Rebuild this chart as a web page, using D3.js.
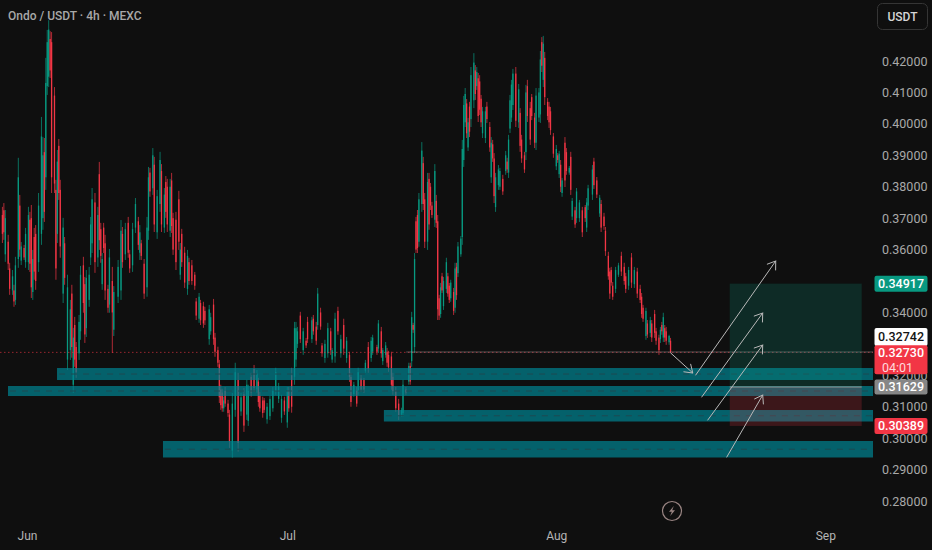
<!DOCTYPE html>
<html><head><meta charset="utf-8">
<script src="https://cdn.jsdelivr.net/npm/d3@7"></script>
<style>html,body{margin:0;padding:0;background:#0f0f0f}svg{display:block}text{font-family:Roboto,"Liberation Sans",sans-serif}</style>
</head><body><div id="c"></div>
<script>
// Candles: slot = number of 4h periods after the series start; prices in 1/10000 USDT
const seriesStart = Date.UTC(2025,4,29);
const candleSlot = [
1,2,3,5,6,8,9,10,12,13,
14,16,17,19,20,21,22,23,24,26,
28,29,30,31,32,33,34,35,37,38,
39,40,41,43,44,46,48,49,50,51,
52,54,55,57,58,59,61,62,63,65,
67,68,69,70,71,72,74,75,77,78,
81,83,84,86,88,89,91,93,95,96,
97,99,101,102,103,105,106,108,110,111,
113,114,115,117,118,119,121,123,124,125,
127,129,130,132,134,135,137,138,140,141,
144,145,147,148,150,151,152,153,154,155,
157,158,160,162,164,166,168,170,171,173,
175,177,178,179,181,182,184,186,188,190,
192,194,196,198,199,201,203,204,205,207,
209,211,212,215,216,218,219,221,222,224,
226,228,229,231,233,235,237,239,241,242,
244,246,247,249,251,252,254,256,257,260,
261,263,264,266,267,268,270,271,273,275,
277,278,280,282,283,284,285,286,287,288,
289,291,292,293,295,296,297,298,300,301,
302,303,304,305,306,308,309,310,311,313,
314,315,316,318,319,320,321,322,323,324,
325,327,328,329,330,331,332,333,335,336,
338,339,340,341,342,344,345,347,349,350,
351,352,353,354,356,358,359,360,362,363,
364,366,367,369,370,372,373,374,375,376,
378,379,380,382,384,385,386,387,388,390,
391,393,394,395,397,398,400,402,404,405,
406,409,410,412,414,415,417,418,420,421,
422,423,425,427,429,431,432,434,436,438,
440,442,443,444,446,447,449,450,452,453,
455,456,457,458,459,460,462,463];
const candleHigh = [
3736,3748,3726,3647,3558,3535,3488,3577,3892,3774,
3624,3615,3669,3736,3720,3742,3599,3669,3678,3780,
4022,3958,3955,4210,4299,4330,4295,4292,4117,3822,
3917,3952,3822,3701,3640,3520,3440,3488,3351,3386,
3306,3392,3548,3577,3513,3535,3545,3704,3796,3780,
3736,3879,3685,3589,3685,3647,3488,3602,3545,3484,
3567,3694,3672,3685,3704,3599,3685,3764,3704,3678,
3631,3570,3704,3863,3860,3923,3895,3790,3911,3872,
3796,3834,3825,3825,3844,3717,3720,3787,3621,3666,
3609,3599,3574,3567,3529,3446,3462,3440,3434,3418,
3424,3399,3443,3335,3291,3249,3170,3157,3132,3163,
3122,3090,3144,3240,3208,3144,3160,3186,3170,3208,
3233,3217,3192,3147,3132,3128,3112,3135,3163,3224,
3176,3138,3132,3163,3163,3224,3370,3370,3354,3402,
3351,3319,3386,3386,3392,3370,3478,3415,3303,3313,
3367,3351,3287,3399,3418,3329,3380,3322,3275,3208,
3179,3163,3224,3201,3192,3249,3306,3322,3329,3297,
3376,3354,3287,3306,3287,3278,3275,3208,3163,3125,
3097,3186,3163,3240,3240,3402,3367,3589,3704,3726,
3780,3942,3895,3780,3844,3844,3812,3752,3872,3774,
3710,3456,3494,3526,3513,3574,3526,3494,3504,3478,
3558,3558,3624,3643,3949,4089,4114,4079,4019,4070,
4181,4225,4187,4181,4162,4155,4092,4054,4054,4070,
4006,3958,3949,3907,3844,3869,3860,3838,3914,3892,
3965,4092,4140,4175,4181,4127,4050,3965,3911,4124,
4140,4070,4095,4035,4114,4114,4232,4276,4280,4229,
4082,4070,4054,3971,3933,3907,3914,3885,3828,3958,
3923,3866,3911,3764,3736,3796,3758,3736,3742,3764,
3806,3869,3892,3831,3774,3758,3717,3672,3593,3542,
3545,3497,3545,3558,3593,3558,3526,3545,3589,3545,
3542,3488,3462,3424,3415,3376,3386,3376,3408,3351,
3329,3354,3370,3399,3360,3354,3329,3319];
const candleLow = [
3621,3631,3561,3535,3456,3456,3418,3424,3542,3577,
3551,3567,3542,3535,3529,3446,3440,3504,3472,3529,
3615,3663,3688,3790,4092,4117,4146,3780,3780,3504,
3621,3758,3574,3430,3488,3217,3249,3256,3144,3227,
3192,3249,3313,3399,3303,3322,3418,3551,3589,3526,
3545,3599,3558,3472,3589,3440,3399,3399,3271,3325,
3430,3440,3542,3567,3574,3526,3529,3653,3599,3567,
3567,3443,3450,3631,3768,3774,3656,3634,3720,3656,
3653,3701,3656,3640,3653,3583,3535,3599,3504,3545,
3478,3456,3488,3488,3472,3376,3367,3360,3351,3360,
3297,3329,3297,3259,3227,3112,3090,3084,3084,3100,
3068,2969,2938,3068,2957,3071,3020,3058,3039,3132,
3147,3144,3100,3084,3065,3081,3046,3058,3084,3138,
3112,3049,3074,3033,3084,3081,3170,3227,3287,3303,
3265,3287,3303,3303,3329,3297,3345,3345,3259,3240,
3256,3265,3240,3240,3329,3256,3265,3240,3179,3100,
3132,3100,3138,3147,3144,3208,3208,3243,3265,3265,
3271,3256,3233,3256,3227,3211,3154,3138,3084,3058,
3068,3068,3138,3170,3170,3227,3335,3271,3589,3589,
3609,3720,3726,3605,3599,3663,3726,3701,3672,3669,
3376,3376,3383,3462,3408,3462,3450,3430,3434,3392,
3399,3440,3513,3577,3615,3863,3990,3955,3914,3958,
3990,4050,4076,4108,4006,4028,3990,3955,3939,4003,
3911,3812,3879,3748,3720,3790,3790,3774,3838,3844,
3828,3971,4006,4044,3990,3987,3911,3876,3844,3885,
4006,3933,4012,3923,3917,4006,4003,4165,4117,4060,
4012,3987,3965,3892,3853,3876,3828,3783,3768,3799,
3838,3838,3774,3694,3669,3685,3688,3640,3688,3656,
3726,3758,3793,3764,3704,3656,3663,3580,3504,3443,
3485,3440,3462,3513,3516,3488,3462,3472,3478,3478,
3446,3430,3383,3370,3313,3319,3322,3306,3319,3297,
3265,3303,3329,3306,3306,3297,3297,3271];
const candleOpen = [
3710,3725,3585,3625,3540,3470,3470,3440,3570,3740,
3565,3605,3560,3560,3695,3700,3465,3640,3650,3560,
3650,3700,3910,3830,4120,4150,4270,4260,4090,3790,
3650,3930,3790,3460,3620,3250,3280,3460,3170,3360,
3290,3270,3340,3550,3490,3350,3440,3575,3620,3750,
3575,3840,3665,3490,3670,3620,3475,3425,3500,3345,
3450,3470,3650,3585,3685,3585,3550,3670,3690,3590,
3620,3555,3480,3660,3845,3795,3870,3655,3745,3850,
3670,3815,3800,3660,3820,3700,3695,3760,3520,3650,
3590,3475,3560,3550,3520,3435,3380,3430,3420,3405,
3315,3340,3425,3320,3280,3235,3155,3145,3095,3150,
3110,3075,2960,3090,3185,3085,3140,3075,3055,3195,
3220,3155,3180,3135,3120,3120,3060,3070,3095,3150,
3125,3065,3120,3050,3150,3200,3195,3250,3300,3390,
3280,3310,3370,3315,3380,3355,3360,3400,3295,3255,
3270,3340,3250,3260,3405,3270,3360,3255,3265,3195,
3140,3150,3150,3190,3185,3215,3290,3255,3275,3290,
3285,3340,3245,3265,3275,3265,3260,3195,3150,3110,
3075,3080,3155,3180,3230,3245,3360,3290,3690,3710,
3625,3745,3875,3760,3625,3825,3800,3740,3695,3755,
3690,3445,3395,3515,3420,3475,3515,3485,3445,3465,
3415,3545,3525,3585,3640,3885,4005,4065,3925,4055,
4015,4075,4170,4120,4145,4135,4080,3970,3955,4055,
3990,3830,3935,3890,3735,3805,3800,3825,3850,3880,
3845,3985,4020,4060,4160,4005,4035,3950,3900,3910,
4120,4050,4085,4020,3940,4020,4030,4260,4140,4210,
4070,4055,4040,3960,3865,3900,3840,3870,3780,3940,
3910,3845,3895,3705,3725,3700,3700,3725,3735,3670,
3740,3775,3880,3820,3715,3745,3705,3660,3580,3530,
3535,3485,3475,3520,3580,3545,3515,3485,3575,3490,
3530,3475,3450,3415,3325,3365,3335,3365,3395,3340,
3320,3315,3360,3320,3350,3340,3305,3310];
const candleClose = [
3650,3655,3700,3555,3475,3515,3435,3550,3830,3600,
3610,3575,3650,3710,3555,3480,3570,3530,3500,3740,
3960,3900,3720,4130,4260,4300,4170,3830,3810,3540,
3880,3780,3610,3670,3510,3480,3410,3290,3320,3250,
3210,3370,3520,3430,3330,3510,3520,3680,3760,3560,
3710,3630,3580,3570,3605,3470,3415,3575,3400,3465,
3545,3660,3560,3665,3590,3540,3665,3745,3615,3655,
3580,3460,3670,3830,3785,3900,3680,3770,3885,3680,
3775,3720,3680,3800,3675,3600,3560,3625,3600,3560,
3495,3580,3500,3500,3485,3390,3450,3375,3365,3375,
3410,3385,3315,3275,3240,3130,3105,3095,3120,3110,
3080,2990,3110,3210,2985,3130,3040,3170,3150,3145,
3160,3205,3115,3095,3080,3090,3100,3125,3150,3210,
3165,3125,3085,3150,3095,3100,3350,3350,3340,3315,
3340,3295,3315,3375,3340,3310,3460,3355,3270,3300,
3350,3280,3280,3380,3340,3315,3285,3310,3195,3115,
3170,3110,3210,3155,3155,3240,3220,3310,3320,3275,
3365,3270,3280,3295,3240,3225,3170,3150,3095,3070,
3090,3170,3145,3230,3180,3385,3345,3570,3600,3605,
3760,3915,3745,3625,3815,3680,3740,3710,3850,3685,
3410,3390,3480,3470,3500,3560,3460,3440,3495,3405,
3540,3455,3610,3635,3920,4060,4095,3970,4005,3975,
4155,4195,4095,4165,4025,4045,4005,4040,4040,4015,
3925,3940,3890,3770,3830,3855,3850,3785,3900,3855,
3950,4075,4125,4160,4010,4110,3930,3890,3855,4100,
4025,3950,4025,3940,4090,4100,4205,4185,4255,4085,
4025,4005,3980,3905,3920,3885,3905,3800,3820,3820,
3850,3860,3790,3755,3680,3785,3750,3655,3700,3750,
3795,3855,3805,3775,3765,3670,3675,3595,3515,3460,
3495,3450,3535,3550,3530,3500,3475,3535,3495,3535,
3460,3440,3395,3380,3405,3330,3375,3320,3335,3310,
3280,3345,3340,3385,3320,3310,3325,3273];

// Axes (0.33 and 0.35 sit fully behind price tags in the reference, so they are not shown)
const priceTicks = [0.28,0.29,0.30,0.31,0.32,0.34,0.36,0.37,0.38,0.39,0.40,0.41,0.42];
const monthTicks = [[2025,5,1],[2025,6,1],[2025,7,1],[2025,8,1]];

// Support zones: start (days from 1 June), price top, price bottom
const zoneStartDay = [3.46,-2.19,41.13,15.67];
const zoneTop = [0.32232,0.31660,0.30896,0.29910];
const zoneBottom = [0.31850,0.31341,0.30530,0.29385];
const zoneEndDay = 97.5;

// Long position tool
const positionDays = [80.99,96.2];
const targetPrice = 0.34917, entryPrice = 0.31629, stopPrice = 0.30389;
const lastLinePrice = 0.32742, lastPrice = 0.32730;
const lastLineStartDay = 43.7;

// Arrows: start day, start price, end day, end price
const arrowStartDay = [74.19,77.07,77.76,78.46,80.65];
const arrowStartPrice = [0.32709,0.32010,0.31310,0.30578,0.29400];
const arrowEndDay = [76.73,86.29,84.79,84.79,84.79];
const arrowEndPrice = [0.32073,0.35637,0.33982,0.32964,0.31373];

// Price tags
const tagPrice = [0.34917,0.32742,0.32730,0.31629,0.30389];
const tagText = ["0.34917","0.32742","0.32730","0.31629","0.30389"];
const tagFill = ["#089981","#ffffff","#f23645","#868686","#f23645"];
const tagInk = ["#ffffff","#131313","#ffffff","#ffffff","#ffffff"];
const tagHeight = [16,18,29,15,16];
const tagTextOffset = [0,-15,0,0,0];
const countdownText = "04:01";

const W=932,H=550;
const svg=d3.select("#c").append("svg").attr("width",W).attr("height",H);
svg.append("rect").attr("width",W).attr("height",H).attr("fill","#0f0f0f");
const jun1=Date.UTC(2025,5,1), dayMs=864e5;
const dayDate=d=>new Date(jun1+d*dayMs);
const x=d3.scaleUtc().domain([dayDate(-3.112),dayDate(104.3)]).range([0,932]);
const y=d3.scaleLinear().domain([0.43941,0.26442]).range([0,550]);

// Candles
const candles=d3.range(candleSlot.length).map(i=>({
  t:new Date(seriesStart+candleSlot[i]*4*36e5),h:candleHigh[i]/1e4,l:candleLow[i]/1e4,o:candleOpen[i]/1e4,c:candleClose[i]/1e4}));
const col=d=>d.c>=d.o?"#089981":"#f23645";
const cg=svg.append("g");
cg.selectAll("line").data(candles).join("line")
  .attr("x1",d=>x(d.t)).attr("x2",d=>x(d.t)).attr("y1",d=>y(d.h)).attr("y2",d=>y(d.l))
  .attr("stroke",col).attr("stroke-width",1).attr("opacity",.7);
cg.selectAll("rect").data(candles).join("rect")
  .attr("x",d=>x(d.t)-.65).attr("width",1.3)
  .attr("y",d=>y(Math.max(d.o,d.c))).attr("height",d=>Math.max(1,y(Math.min(d.o,d.c))-y(Math.max(d.o,d.c))))
  .attr("fill",col);

// Current price dotted line and last close line
svg.append("line").attr("x1",0).attr("x2",x(dayDate(zoneEndDay))).attr("y1",y(lastPrice)).attr("y2",y(lastPrice))
  .attr("stroke","#f23645").attr("stroke-width",1).attr("stroke-dasharray","1.5 2.5").attr("opacity",.6);
svg.append("line").attr("x1",x(dayDate(lastLineStartDay))).attr("x2",x(dayDate(zoneEndDay))).attr("y1",y(lastLinePrice)).attr("y2",y(lastLinePrice))
  .attr("stroke","#b8b8b8").attr("stroke-width",1).attr("opacity",.4);

// Zones
const zones=d3.range(zoneTop.length).map(i=>({s:zoneStartDay[i],t:zoneTop[i],b:zoneBottom[i]}));
svg.append("g").selectAll("rect").data(zones).join("rect")
  .attr("x",d=>x(dayDate(d.s))).attr("width",d=>x(dayDate(zoneEndDay))-x(dayDate(d.s)))
  .attr("y",d=>y(d.t)).attr("height",d=>y(d.b)-y(d.t))
  .attr("fill","#00818f").attr("fill-opacity",.72);
svg.append("g").selectAll("line").data(zones).join("line")
  .attr("x1",d=>x(dayDate(d.s))+2).attr("x2",d=>x(dayDate(zoneEndDay)))
  .attr("y1",d=>y((d.t+d.b)/2)).attr("y2",d=>y((d.t+d.b)/2))
  .attr("stroke","#1d4a52").attr("stroke-width",1).attr("stroke-dasharray","6 6");

// Position tool
const px0=x(dayDate(positionDays[0])),px1=x(dayDate(positionDays[1]));
svg.append("rect").attr("x",px0).attr("width",px1-px0).attr("y",y(targetPrice)).attr("height",y(entryPrice)-y(targetPrice)).attr("fill","#089981").attr("fill-opacity",.2);
svg.append("rect").attr("x",px0).attr("width",px1-px0).attr("y",y(entryPrice)).attr("height",y(stopPrice)-y(entryPrice)).attr("fill","#f23645").attr("fill-opacity",.2);
svg.append("line").attr("x1",px0).attr("x2",px1).attr("y1",y(entryPrice)).attr("y2",y(entryPrice)).attr("stroke","#9a9a9a").attr("stroke-width",1);

// Arrows
const ag=svg.append("g").attr("fill","none").attr("stroke","#b9b9b9").attr("stroke-width",1).attr("stroke-linecap","round");
d3.range(arrowStartDay.length).forEach(i=>{
  const x1=x(dayDate(arrowStartDay[i])),y1=y(arrowStartPrice[i]),x2=x(dayDate(arrowEndDay[i])),y2=y(arrowEndPrice[i]);
  const a=Math.atan2(y2-y1,x2-x1),L=9,s=.6;
  ag.append("path").attr("d",d3.line()([[x1,y1],[x2,y2]]));
  ag.append("path").attr("d",d3.line()([[x2-L*Math.cos(a-s),y2-L*Math.sin(a-s)],[x2,y2],[x2-L*Math.cos(a+s),y2-L*Math.sin(a+s)]]));
});

// Y axis labels
const yAxis=svg.append("g").attr("transform","translate(882,0)").call(d3.axisRight(y).tickValues(priceTicks).tickFormat(d3.format(".5f")).tickSize(0).tickPadding(0));
yAxis.select(".domain").remove();
yAxis.selectAll("text").attr("fill","#a9a9a9").attr("font-size",12.5).style("font-family","Roboto,sans-serif");

// X axis labels
const xAxis=svg.append("g").attr("transform","translate(0,531)").call(d3.axisBottom(x).tickValues(monthTicks.map(m=>new Date(Date.UTC(m[0],m[1],m[2])))).tickFormat(d3.utcFormat("%b")).tickSize(0).tickPadding(0));
xAxis.select(".domain").remove();
xAxis.selectAll("text").attr("fill","#b5b5b5").attr("font-size",12).style("font-family","Roboto,sans-serif");

// Price tags
d3.range(tagPrice.length).forEach(i=>{
  const yy=y(tagPrice[i])+tagTextOffset[i],h=tagHeight[i],top=i===2?yy-7:yy-h/2;
  svg.append("rect").attr("x",874.5).attr("width",53).attr("y",top).attr("height",h).attr("rx",2).attr("fill",tagFill[i]);
  svg.append("text").attr("x",901).attr("y",yy).attr("dy",".35em").attr("text-anchor","middle").attr("font-size",12.5).attr("font-weight",500).attr("fill",tagInk[i]).text(tagText[i]);
});
svg.append("text").attr("x",882).attr("y",y(lastPrice)+15).attr("dy",".35em").attr("font-size",12.5).attr("fill","#ffd9dc").text(countdownText);

// USDT button
svg.append("rect").attr("x",877.5).attr("y",3.5).attr("width",50).attr("height",26).attr("rx",5).attr("fill","none").attr("stroke","#353535");
svg.append("text").attr("x",902.5).attr("y",17).attr("dy",".35em").attr("text-anchor","middle").attr("font-size",12).attr("font-weight",500).attr("fill","#d6d6d6").text("USDT");

// Title
svg.append("text").attr("x",8).attr("y",16).attr("dy",".35em").attr("font-size",12).attr("font-weight",500).attr("fill","#a8a8a8").text("Ondo / USDT · 4h · MEXC");

// Lightning icon
const ic=svg.append("g").attr("transform","translate(672,511)");
ic.append("circle").attr("r",9.5).attr("fill","none").attr("stroke","#9a8583").attr("stroke-width",1.2);
ic.append("path").attr("d","M1.8,-5 L-3,0.8 L-0.2,0.8 L-1.8,5 L3,-0.8 L0.2,-0.8 Z").attr("fill","#9a8583");
</script></body></html>
